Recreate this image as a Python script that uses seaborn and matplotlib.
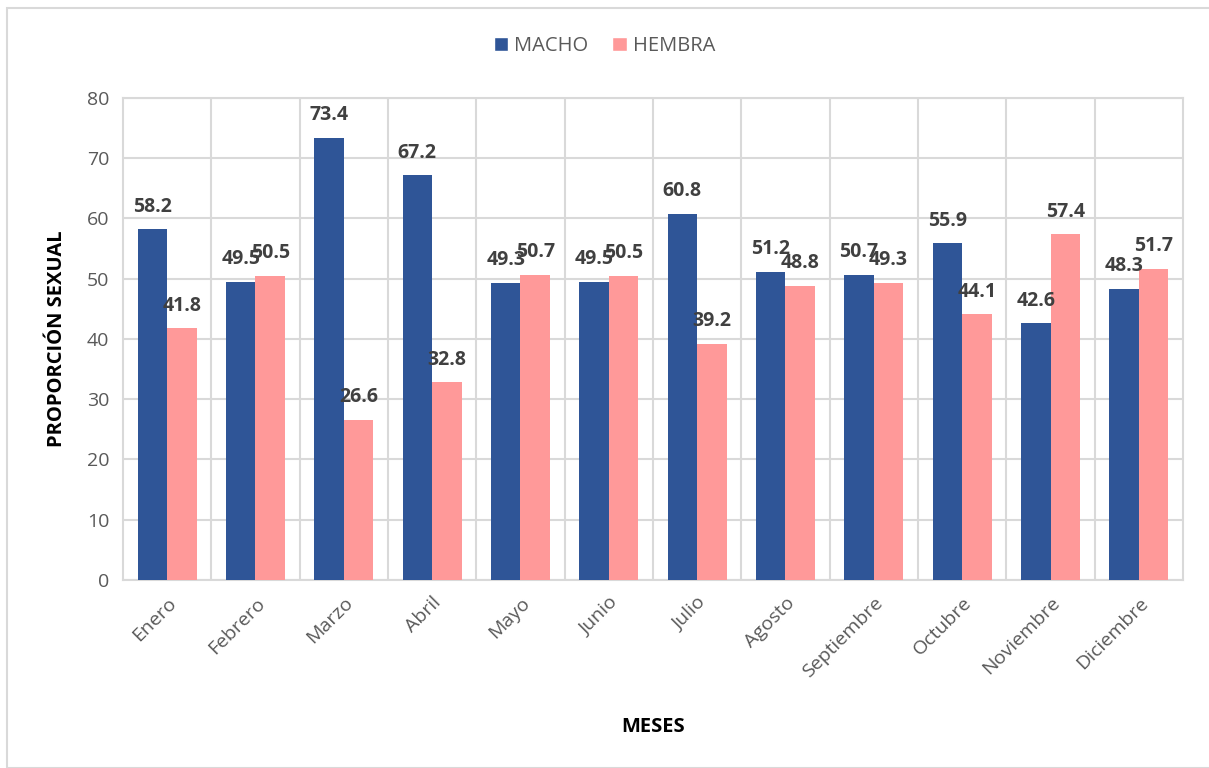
import pandas as pd
import numpy as np
import matplotlib
matplotlib.use("Agg")
import matplotlib.pyplot as plt
from matplotlib.patches import Rectangle, Patch
import seaborn as sns

# Data
meses = ["Enero", "Febrero", "Marzo", "Abril", "Mayo", "Junio", "Julio",
         "Agosto", "Septiembre", "Octubre", "Noviembre", "Diciembre"]
macho = [58.2, 49.5, 73.4, 67.2, 49.3, 49.5, 60.8, 51.2, 50.7, 55.9, 42.6, 48.3]
hembra = [41.8, 50.5, 26.6, 32.8, 50.7, 50.5, 39.2, 48.8, 49.3, 44.1, 57.4, 51.7]
series = ["MACHO", "HEMBRA"]
colores = ["#2F5597", "#FF9999"]

df = pd.DataFrame({
    "mes": meses * 2,
    "valor": macho + hembra,
    "sexo": ["MACHO"] * len(meses) + ["HEMBRA"] * len(meses),
})

sns.set_style("white")
plt.rcParams["font.family"] = ["Open Sans", "DejaVu Sans"]

fig = plt.figure(figsize=(12.09, 7.68), dpi=100)
ax = fig.add_axes([0.1017, 0.2448, 0.8768, 0.6276])

sns.barplot(data=df, x="mes", y="valor", hue="sexo", order=meses,
            hue_order=series, palette=colores, width=0.67, saturation=1,
            errorbar=None, ax=ax, legend=False, zorder=3, linewidth=0)

# data labels
for cont in ax.containers:
    ax.bar_label(cont, fmt="%.1f", padding=9, fontsize=14,
                 fontweight="bold", color="#404040")

ax.set_ylim(0, 80)
ax.set_xlim(-0.5, len(meses) - 0.5)
ax.set_yticks(range(0, 81, 10))
ax.yaxis.grid(True, color="#d9d9d9", lw=1.5, zorder=0)
for i in range(len(meses) - 1):
    ax.axvline(i + 0.5, color="#d9d9d9", lw=1.5, zorder=0)
for s in ax.spines.values():
    s.set_color("#d9d9d9")
    s.set_linewidth(1.5)

ax.tick_params(axis="both", length=0, labelsize=14, colors="#595959", pad=10)
plt.setp(ax.get_xticklabels(), rotation=45, ha="right", rotation_mode="anchor")
ax.set_xlabel("MESES", fontsize=14.5, fontweight="bold", color="black", labelpad=26)
ax.set_ylabel("PROPORCIÓN SEXUAL", fontsize=14.5, fontweight="bold",
              color="black", labelpad=14)

handles = [Patch(facecolor=c, label=s) for s, c in zip(series, colores)]
fig.legend(handles=handles, loc="center", bbox_to_anchor=(0.5, 0.94), ncol=2,
           frameon=False, fontsize=14.5, handlelength=0.7, handleheight=0.7,
           handletextpad=0.3, columnspacing=1.2, labelcolor="#595959")

# outer chart border
fig.patches.append(Rectangle((0.006, 0.0), 1.2, 0.99, transform=fig.transFigure,
                             fill=False, edgecolor="#d9d9d9", lw=1.5))

fig.savefig("out.png", dpi=100)
